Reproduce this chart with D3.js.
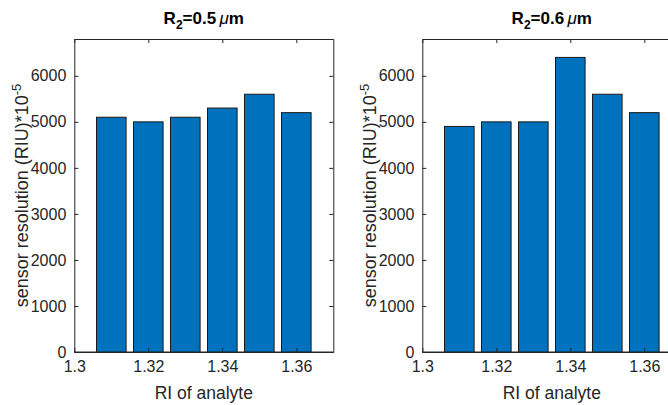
<!DOCTYPE html>
<html>
<head>
<meta charset="utf-8">
<script src="https://cdn.jsdelivr.net/npm/d3@7"></script>
<style>
  body { margin: 0; background: #fff; }
  svg { display: block; font-family: "Liberation Sans", Arial, sans-serif; }
  .axis text { fill: #262626; font-size: 16px; }
  .axis path, .axis line { stroke: #262626; }
</style>
</head>
<body>
<svg id="chart" width="668" height="405"></svg>
<script>
var categories = [1.31, 1.32, 1.33, 1.34, 1.35, 1.36];
var valuesR05 = [5100, 5000, 5100, 5300, 5600, 5200];
var valuesR06 = [4900, 5000, 5000, 6400, 5600, 5200];
var xTicks = [1.3, 1.32, 1.34, 1.36];
var yTicks = [0, 1000, 2000, 3000, 4000, 5000, 6000];
var titles = ["0.5", "0.6"];

var svg = d3.select("#chart");
var top_ = 39, bottom = 352, plotW = 259;

function do_plot(left, data, rVal) {
  var x = d3.scaleLinear().domain([1.3, 1.37]).range([0, plotW]);
  var y = d3.scaleLinear().domain([0, 6800]).range([bottom - top_, 0]);
  var h = bottom - top_;
  var g = svg.append("g").attr("transform", "translate(" + left + "," + top_ + ")");

  // baseline
  g.append("line").attr("x1", 0).attr("x2", plotW).attr("y1", y(0)).attr("y2", y(0))
    .attr("stroke", "#262626").attr("stroke-width", 1);

  var bw = x(1.308) - x(1.3);
  g.selectAll(".bar").data(data).enter().append("rect")
    .attr("class", "bar")
    .attr("x", function(d, i) { return x(categories[i]) - bw / 2; })
    .attr("y", function(d) { return y(d); })
    .attr("width", bw)
    .attr("height", function(d) { return h - y(d); })
    .attr("fill", "#0072BD")
    .attr("stroke", "#1a1a1a")
    .attr("stroke-width", 1);

  g.append("g").attr("class", "axis")
    .attr("transform", "translate(0," + h + ")")
    .call(d3.axisBottom(x).tickValues(xTicks).tickSizeInner(-4).tickSizeOuter(0).tickPadding(9).tickFormat(d3.format("")));
  g.append("g").attr("class", "axis")
    .call(d3.axisTop(x).tickValues(xTicks).tickSizeInner(-4).tickSizeOuter(0).tickFormat(""));
  g.append("g").attr("class", "axis")
    .call(d3.axisLeft(y).tickValues(yTicks).tickSizeInner(-4).tickSizeOuter(0).tickPadding(8).tickFormat(d3.format("d")));
  g.append("g").attr("class", "axis")
    .attr("transform", "translate(" + plotW + ",0)")
    .call(d3.axisRight(y).tickValues(yTicks).tickSizeInner(-4).tickSizeOuter(0).tickFormat(""));

  g.selectAll(".axis path").attr("stroke-width", 1);

  // title
  var t = svg.append("text").attr("x", left + plotW / 2).attr("y", 24)
    .attr("text-anchor", "middle").attr("font-weight", "bold").attr("font-size", 17).attr("fill", "#000");
  t.append("tspan").text("R");
  t.append("tspan").attr("font-size", 12).attr("dy", 5).text("2");
  t.append("tspan").attr("dy", -5).text("=" + rVal + "\u2009");
  t.append("tspan").attr("font-style", "italic").attr("font-weight", "normal").text("\u03bc");
  t.append("tspan").text("m");

  // x label
  svg.append("text").attr("x", left + plotW / 2).attr("y", 399)
    .attr("text-anchor", "middle").attr("font-size", 17.5).attr("fill", "#262626")
    .text("RI of analyte");

  // y label
  var yl = svg.append("text")
    .attr("transform", "translate(" + (left - 46) + "," + (top_ + h / 2) + ") rotate(-90)")
    .attr("text-anchor", "middle").attr("font-size", 18).attr("fill", "#262626");
  yl.append("tspan").text("sensor resolution (RIU)*10");
  yl.append("tspan").attr("font-size", 13).attr("dy", -7).text("-5");
}

do_plot(74.3, valuesR05, titles[0]);
do_plot(422.3, valuesR06, titles[1]);
</script>
</body>
</html>
